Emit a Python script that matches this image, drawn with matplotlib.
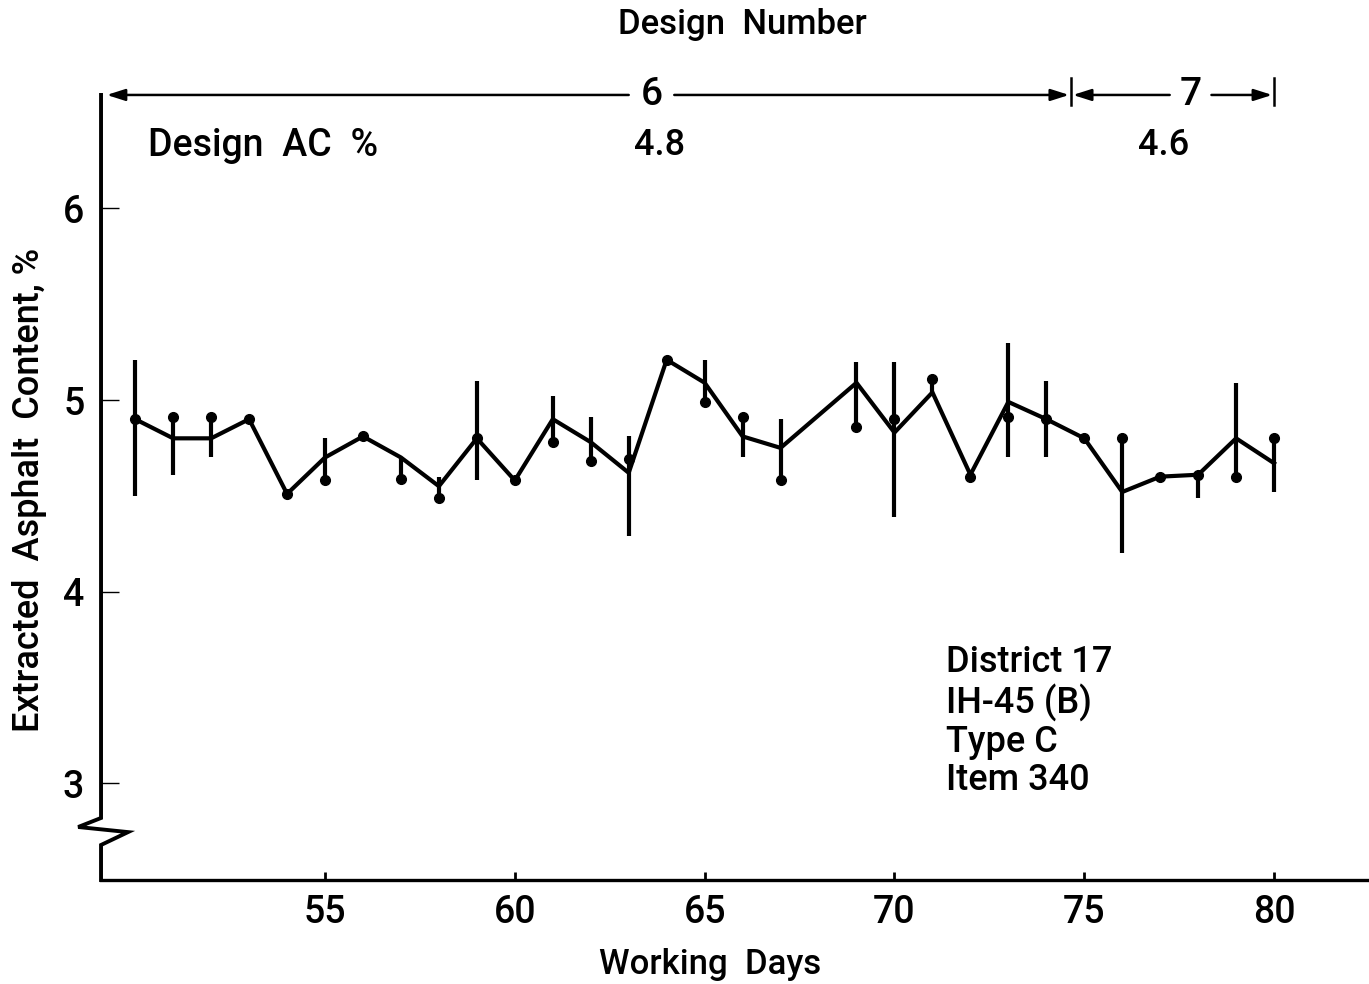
import matplotlib
matplotlib.use("Agg")
import matplotlib.pyplot as plt
from matplotlib.lines import Line2D

plt.rcParams["font.family"] = ["Roboto", "Liberation Sans", "DejaVu Sans"]
plt.rcParams["font.weight"] = "medium"
plt.rcParams["axes.labelweight"] = "medium"

# Daily extracted asphalt content: mean, range (low/high) and single test value
days = [50, 51, 52, 53, 54, 55, 56, 57, 58, 59, 60, 61, 62, 63, 64, 65, 66, 67,
        69, 70, 71, 72, 73, 74, 75, 76, 77, 78, 79, 80]
mean = [4.90, 4.80, 4.80, 4.90, 4.51, 4.70, 4.81, 4.70, 4.55, 4.80, 4.58, 4.90,
        4.78, 4.62, 5.21, 5.09, 4.81, 4.75, 5.09, 4.83, 5.04, 4.61, 4.99, 4.90,
        4.80, 4.52, 4.60, 4.61, 4.80, 4.67]
low = [4.50, 4.61, 4.70, 4.90, 4.51, 4.58, 4.81, 4.59, 4.49, 4.58, 4.58, 4.78,
       4.68, 4.29, 5.21, 4.99, 4.70, 4.58, 4.86, 4.39, 5.04, 4.60, 4.70, 4.70,
       4.80, 4.20, 4.60, 4.49, 4.60, 4.52]
high = [5.21, 4.91, 4.91, 4.90, 4.51, 4.80, 4.81, 4.70, 4.60, 5.10, 4.58, 5.02,
        4.91, 4.81, 5.21, 5.21, 4.91, 4.90, 5.20, 5.20, 5.11, 4.61, 5.30, 5.10,
        4.80, 4.80, 4.60, 4.61, 5.09, 4.80]
single = [4.90, 4.91, 4.91, 4.90, 4.51, 4.58, 4.81, 4.59, 4.49, 4.80, 4.58, 4.78,
          4.68, 4.69, 5.21, 4.99, 4.91, 4.58, 4.86, 4.90, 5.11, 4.60, 4.91, 4.90,
          4.80, 4.80, 4.60, 4.61, 4.60, 4.80]

# Mix design periods: (start day, end day, design number, design AC %)
design_start = [49.2, 74.65]
design_end = [74.65, 80.0]
design_number = ["6", "7"]
design_ac = ["4.8", "4.6"]
number_pos = [63.6, 77.8]
ac_pos = [63.8, 77.1]
number_gap = [0.6, 0.55]

x_ticks = [55, 60, 65, 70, 75, 80]
y_ticks = [3, 4, 5, 6]
note_lines = ["District 17", "IH-45 (B)", "Type C", "Item 340"]

fig = plt.figure(figsize=(13.69, 9.84), dpi=100)
ax = fig.add_axes([0.0738, 0.1057, 0.9262, 0.7978])
ax.set_xlim(49.1, 82.5)
ax.set_ylim(2.495, 6.592)

# Range bars
ax.vlines(days, low, high, colors="black", linewidth=3.0)
# Mean line
ax.plot(days, mean, color="black", linewidth=3.0, solid_joinstyle="miter")
# Single test values
ax.plot(days, single, linestyle="none", marker="o", markersize=7, color="black")

# Axes styling
for side in ("top", "right", "left"):
    ax.spines[side].set_visible(False)
ax.spines["bottom"].set_linewidth(2.4)
ax.set_xticks(x_ticks)
ax.set_yticks(y_ticks)
ax.tick_params(axis="x", direction="in", length=6, width=2.0, labelsize=27, pad=10)
ax.tick_params(axis="y", direction="in", length=13, width=1.0, labelsize=27, pad=12)

# Left axis line with a break symbol near the bottom
bx = [0, 0, -0.018, 0.0213, 0, 0]
by = [1, 0.079, 0.0675, 0.061, 0.0446, 0]
ax.add_line(Line2D(bx, by, transform=ax.transAxes, color="black", linewidth=2.8,
                   clip_on=False, solid_joinstyle="miter"))

ax.set_xlabel("Working  Days", fontsize=25)
ax.xaxis.set_label_coords(0.48, -0.0866)
ax.set_ylabel("Extracted  Asphalt  Content, %", fontsize=26)
ax.yaxis.set_label_coords(-0.043, 0.497)

# Design number header
fig.text(0.542, 0.975, "Design  Number", fontsize=25, ha="center", va="center")

ytop = 6.592
arrow_kw = dict(arrowstyle="-|>,head_length=1.1,head_width=0.35", color="black",
                linewidth=1.8, shrinkA=0, shrinkB=0)
for s, e, num, npos, gap in zip(design_start, design_end, design_number,
                                number_pos, number_gap):
    ax.annotate("", xy=(s + 0.05, ytop), xytext=(npos - gap, ytop),
                arrowprops=arrow_kw, annotation_clip=False)
    ax.annotate("", xy=(e - 0.05, ytop), xytext=(npos + gap, ytop),
                arrowprops=arrow_kw, annotation_clip=False)
    ax.text(npos, ytop, num, fontsize=28, ha="center", va="center", clip_on=False)
for b in design_end:
    ax.plot([b, b], [6.54, 6.68], color="black", linewidth=1.8, clip_on=False)

ax.text(50.35, 6.33, "Design  AC  %", fontsize=27, ha="left", va="center")
for acv, apos in zip(design_ac, ac_pos):
    ax.text(apos, 6.33, acv, fontsize=26, ha="center", va="center")

ax.text(71.35, 3.72, "\n".join(note_lines), fontsize=26, ha="left", va="top",
        linespacing=1.12)

fig.savefig("out.png", dpi=100)
